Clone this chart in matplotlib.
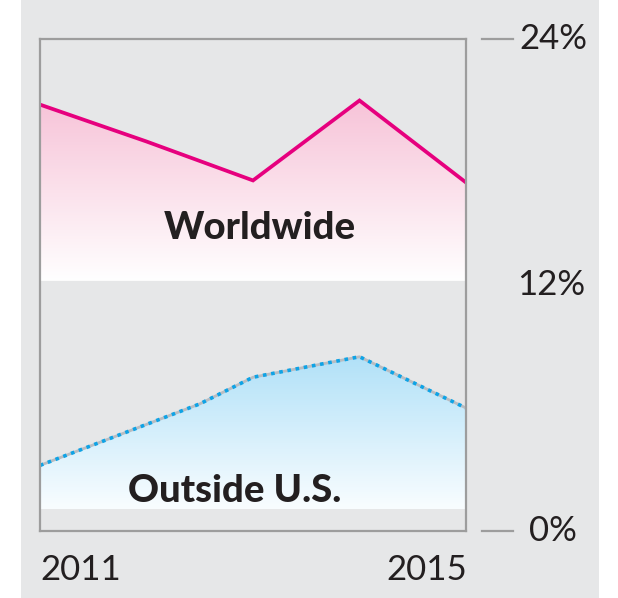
import numpy as np
import matplotlib
matplotlib.use("Agg")
import matplotlib.pyplot as plt
from matplotlib.colors import LinearSegmentedColormap
from matplotlib.patches import Rectangle
from matplotlib.lines import Line2D

# data (percent)
ww_years = [2011, 2012, 2013, 2014, 2015]
worldwide = [20.8, 19.0, 17.1, 21.0, 17.0]
us_years = [2011, 2012.5, 2013, 2014, 2015]
outside_us = [3.2, 6.2, 7.5, 8.5, 6.0]
ww_base = 12.2
us_base = 1.05
ytick_vals = [24, 12, 0]
ytick_labels = ["24%", "12%", "0%"]

W, H = 618, 598
fig = plt.figure(figsize=(W / 100, H / 100), dpi=100, facecolor="white")
bg = "#e6e7e8"
fig.patches.append(Rectangle((21 / W, 0), (599 - 21) / W, 1, transform=fig.transFigure,
                             facecolor=bg, edgecolor="none", zorder=-10))

ax = fig.add_axes([40 / W, 1 - 531 / H, 426 / W, 492 / H])
ax.set_facecolor(bg)


def grad_fill(x, y, base, c_top, c_bot):
    poly = ax.fill_between(x, y, base, color="none", lw=0)
    path = poly.get_paths()[0]
    cmap = LinearSegmentedColormap.from_list("g", [c_top, c_bot])
    img = np.linspace(0, 1, 256).reshape(-1, 1)
    im = ax.imshow(img, cmap=cmap, extent=[x[0], x[-1], base, max(y)],
                   aspect="auto", origin="upper", zorder=1, interpolation="bilinear")
    im.set_clip_path(path, transform=ax.transData)


grad_fill(ww_years, worldwide, ww_base, "#f7c3d8", "#ffffff")
grad_fill(us_years, outside_us, us_base, "#b1e1f8", "#f9fdff")

ax.plot(ww_years, worldwide, color="#e6007e", lw=2.7, zorder=3, solid_joinstyle="miter")
ax.plot(us_years, outside_us, color="#b9bdc2", lw=2.0, zorder=3)
ax.plot(us_years, outside_us, color="#0ea3e6", lw=2.6, zorder=4,
        dashes=(1.0, 1.3), dash_capstyle="butt")

ax.set_xlim(2011, 2015)
ax.set_ylim(0, 24)
ax.set_xticks([])
ax.set_yticks([])
for s in ax.spines.values():
    s.set_color("#9d9d9d")
    s.set_linewidth(1.6)
    s.set_zorder(5)

bold = dict(family=["Lato", "DejaVu Sans"], weight="black", color="#231f20", fontsize=27.5)
ax.text(2013.06, 14.8, "Worldwide", ha="center", va="center", **bold)
ax.text(2012.83, 1.95, "Outside U.S.", ha="center", va="center", **bold)

light = dict(family=["Lato", "DejaVu Sans"], weight="normal", color="#231f20", fontsize=25)
fig.text(40 / W, 1 - 570 / H, "2011", ha="left", va="center", **light)
fig.text(467 / W, 1 - 570 / H, "2015", ha="right", va="center", **light)

# right-hand scale
lx = [519, 517, 529]
for v, lab, x in zip(ytick_vals, ytick_labels, lx):
    yf = ax.transData.transform((2015, v))[1]
    yf = fig.transFigure.inverted().transform((0, yf))[1]
    fig.text(x / W, yf, lab, ha="left", va="center", **light)
    if v in (24, 0):
        fig.lines.append(Line2D([482 / W, 513 / W], [yf, yf], transform=fig.transFigure,
                                color="#9d9d9d", lw=1.6))

fig.savefig("out.png", dpi=100, facecolor="white")
